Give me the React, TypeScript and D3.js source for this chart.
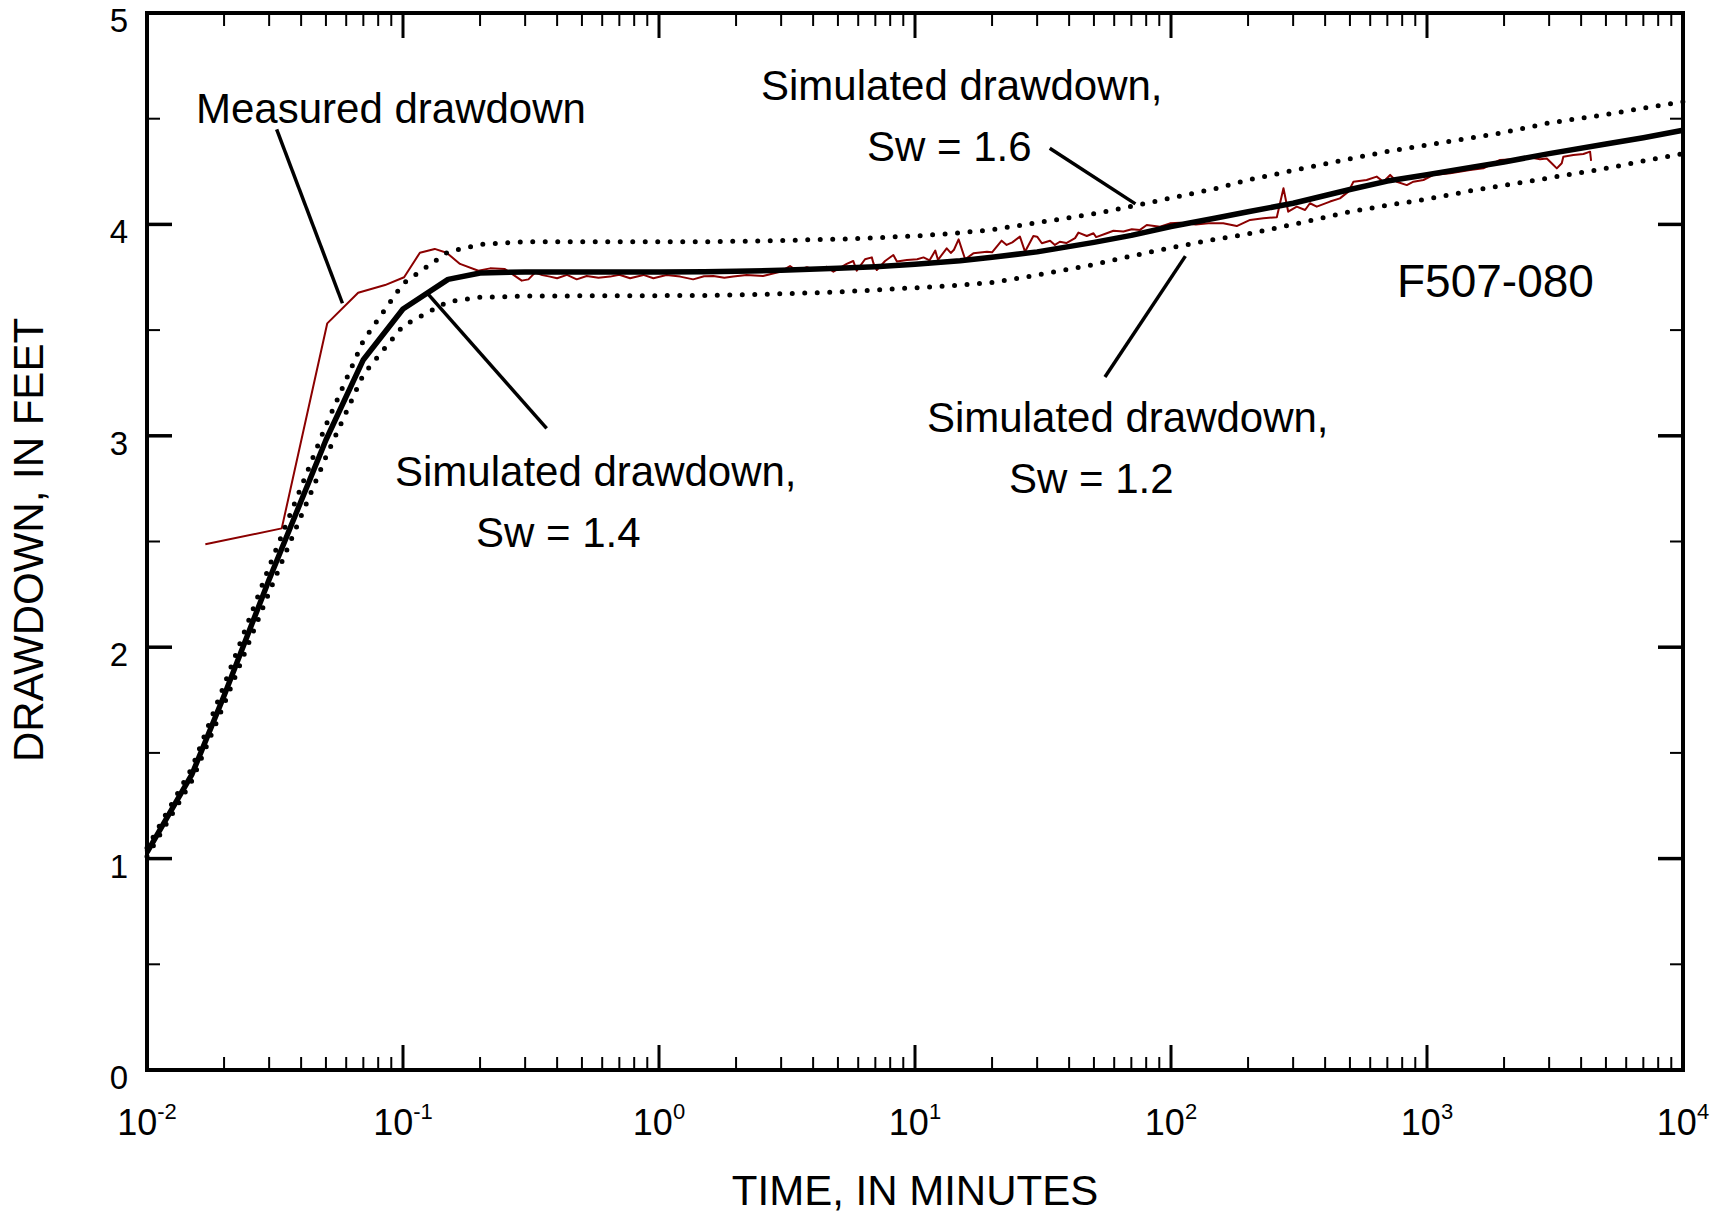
import React from "react";
import * as d3 from "d3";

// ---- Data (time in minutes, drawdown in feet) ----
const simTimes = [0.01, 0.015, 0.02, 0.03, 0.05, 0.07, 0.1, 0.15, 0.2, 0.3, 0.5, 0.7, 1, 1.5, 2, 3, 5, 7, 10, 15, 20, 30, 50, 70, 100, 150, 200, 300, 500, 700, 1000, 1500, 2000, 3000, 5000, 7000, 10000];
const simSw14 = [1.03, 1.40, 1.77, 2.32, 2.98, 3.36, 3.60, 3.74, 3.77, 3.775, 3.775, 3.775, 3.775, 3.776, 3.778, 3.783, 3.792, 3.80, 3.812, 3.828, 3.845, 3.87, 3.915, 3.948, 3.99, 4.03, 4.06, 4.10, 4.165, 4.205, 4.235, 4.27, 4.295, 4.335, 4.38, 4.41, 4.445];
const simSw16 = [1.05, 1.43, 1.82, 2.38, 3.05, 3.45, 3.72, 3.87, 3.905, 3.918, 3.918, 3.918, 3.918, 3.918, 3.92, 3.924, 3.93, 3.937, 3.945, 3.96, 3.975, 4.008, 4.05, 4.085, 4.125, 4.17, 4.21, 4.255, 4.31, 4.345, 4.375, 4.41, 4.435, 4.48, 4.52, 4.55, 4.58];
const simSw12 = [1.01, 1.37, 1.73, 2.26, 2.90, 3.29, 3.52, 3.635, 3.655, 3.661, 3.662, 3.663, 3.663, 3.664, 3.666, 3.672, 3.68, 3.69, 3.70, 3.713, 3.725, 3.76, 3.81, 3.85, 3.89, 3.93, 3.955, 4.00, 4.06, 4.09, 4.12, 4.16, 4.185, 4.22, 4.265, 4.30, 4.335];

const measTimes = [
  0.0169, 0.0336, 0.0506, 0.0668, 0.0851, 0.101, 0.1164, 0.133, 0.148, 0.167, 0.197, 0.219, 0.25, 0.27, 0.291, 0.309, 0.328, 0.35, 0.375, 0.40,
  0.437, 0.477, 0.522, 0.58, 0.644, 0.70, 0.771, 0.869, 0.951, 1.07, 1.21, 1.36, 1.5, 1.63, 1.8, 1.95, 2.2, 2.55, 2.97, 3.25,
  3.45, 3.78, 4.13, 4.52, 4.8, 5.41, 5.74, 5.92, 6.38, 6.78, 6.88, 7.09, 7.64, 8.23, 8.5, 9.3, 10.2, 10.8, 11.4, 12.0,
  12.3, 13.3, 13.8, 14.2, 14.8, 15.7, 16.9, 19.1, 20.0, 21.8, 22.8, 24.0, 25.7, 26.9, 29, 30, 31.3, 33.7, 35.2, 36.8,
  39, 42.2, 43.5, 46.9, 49.8, 51, 56.1, 59.6, 65.2, 70.3, 75.7, 80.4, 90.6, 99.1, 108.4, 125, 140, 160, 180.6, 203.7,
  229.6, 259, 275, 287, 310, 334, 349, 371, 418, 457, 493, 516, 581, 636, 676, 718, 762, 834, 885, 968,
  1060, 1232, 1472, 1660, 1928, 2173, 2449, 2762, 2937, 3069, 3214, 3360, 3408, 3730, 4083, 4335, 4375
];
const measDrawdown = [
  2.487, 2.562, 3.532, 3.677, 3.713, 3.75, 3.866, 3.884, 3.866, 3.813, 3.781, 3.792, 3.789, 3.761, 3.734, 3.74, 3.772, 3.76, 3.753, 3.745,
  3.761, 3.74, 3.756, 3.748, 3.753, 3.762, 3.745, 3.761, 3.745, 3.761, 3.753, 3.74, 3.755, 3.756, 3.748, 3.753, 3.761, 3.756, 3.776, 3.803,
  3.781, 3.797, 3.784, 3.80, 3.776, 3.813, 3.827, 3.781, 3.835, 3.844, 3.816, 3.784, 3.827, 3.855, 3.825, 3.832, 3.835, 3.844, 3.83, 3.876,
  3.832, 3.887, 3.865, 3.88, 3.929, 3.835, 3.863, 3.871, 3.868, 3.923, 3.903, 3.915, 3.942, 3.871, 3.945, 3.942, 3.911, 3.923, 3.903, 3.918,
  3.912, 3.935, 3.961, 3.945, 3.958, 3.94, 3.958, 3.97, 3.966, 3.977, 3.974, 3.997, 3.989, 4.005, 4.008, 4.0, 4.005, 4.005, 3.992, 4.021,
  4.029, 4.034, 4.171, 4.06, 4.084, 4.068, 4.10, 4.084, 4.108, 4.123, 4.155, 4.202, 4.21, 4.226, 4.202, 4.234, 4.202, 4.186, 4.202, 4.21,
  4.234, 4.242, 4.257, 4.265, 4.305, 4.308, 4.32, 4.308, 4.312, 4.289, 4.265, 4.289, 4.32, 4.328, 4.333, 4.344, 4.301
];

const xMajorTicks = [0.01, 0.1, 1, 10, 100, 1000, 10000];
const xTickExponents = ["-2", "-1", "0", "1", "2", "3", "4"];
const yMajorTicks = [0, 1, 2, 3, 4, 5];
const yMinorTicks = [0.5, 1.5, 2.5, 3.5, 4.5];

// Leader lines in data coordinates [t1, d1, t2, d2]
const leaders = [
  [0.0321, 4.45, 0.058, 3.627],
  [0.1256, 3.669, 0.364, 3.035],
  [33.6, 4.36, 72.6, 4.097],
  [113.8, 3.85, 55.2, 3.278],
];

export default function App() {
  const W = 1724, H = 1217;
  const L = 147, R = 1683, T = 13, B = 1070;
  const x = d3.scaleLog().domain([0.01, 10000]).range([L, R]);
  const y = d3.scaleLinear().domain([0, 5]).range([B, T]);

  const mk = (ts: number[], ds: number[]) =>
    d3.line<number>().x((_, i) => x(ts[i])).y((_, i) => y(ds[i]))(ts.map((_, i) => i)) || "";

  const minorX: number[] = [];
  for (let k = -2; k < 4; k++) for (let m = 2; m <= 9; m++) minorX.push(m * Math.pow(10, k));

  const font = "'Liberation Sans', Arial, Helvetica, sans-serif";
  const majLen = 25, minLen = 13;

  return (
    <svg width={W} height={H} style={{ position: "fixed", left: 0, top: 0, background: "#fff" }} fontFamily={font}>
      <rect x={0} y={0} width={W} height={H} fill="#fff" />
      {/* ticks */}
      {minorX.map((t, i) => (
        <g key={"mx" + i} stroke="#000" strokeWidth={2}>
          <line x1={x(t)} x2={x(t)} y1={B} y2={B - minLen} />
          <line x1={x(t)} x2={x(t)} y1={T} y2={T + minLen} />
        </g>
      ))}
      {xMajorTicks.map((t, i) => (
        <g key={"Mx" + i} stroke="#000" strokeWidth={3}>
          <line x1={x(t)} x2={x(t)} y1={B} y2={B - majLen} />
          <line x1={x(t)} x2={x(t)} y1={T} y2={T + majLen} />
        </g>
      ))}
      {yMinorTicks.map((v, i) => (
        <g key={"my" + i} stroke="#000" strokeWidth={2}>
          <line x1={L} x2={L + minLen} y1={y(v)} y2={y(v)} />
          <line x1={R} x2={R - minLen} y1={y(v)} y2={y(v)} />
        </g>
      ))}
      {yMajorTicks.map((v, i) => (
        <g key={"My" + i} stroke="#000" strokeWidth={3.5}>
          <line x1={L} x2={L + majLen} y1={y(v)} y2={y(v)} />
          <line x1={R} x2={R - majLen} y1={y(v)} y2={y(v)} />
        </g>
      ))}

      {/* data */}
      <path d={mk(measTimes, measDrawdown)} fill="none" stroke="#8b0000" strokeWidth={2} strokeLinejoin="round" />
      <path d={mk(simTimes, simSw16)} fill="none" stroke="#000" strokeWidth={5} strokeDasharray="0 12.5" strokeLinecap="round" />
      <path d={mk(simTimes, simSw12)} fill="none" stroke="#000" strokeWidth={5} strokeDasharray="0 12.5" strokeLinecap="round" />
      <path d={mk(simTimes, simSw14)} fill="none" stroke="#000" strokeWidth={5.5} strokeLinejoin="round" />

      {/* frame */}
      <rect x={L} y={T} width={R - L} height={B - T} fill="none" stroke="#000" strokeWidth={4} />

      {/* tick labels */}
      {yMajorTicks.map((v, i) => (
        <text key={"yl" + i} x={128} y={y(v) + 19} fontSize={33} textAnchor="end" fill="#000">{v}</text>
      ))}
      {xMajorTicks.map((t, i) => (
        <text key={"xl" + i} x={x(t)} y={1135} fontSize={36} textAnchor="middle" fill="#000">
          10<tspan dy={-16} fontSize={22}>{xTickExponents[i]}</tspan>
        </text>
      ))}

      {/* axis titles */}
      <text x={915} y={1205} fontSize={42} textAnchor="middle">TIME, IN MINUTES</text>
      <text transform="translate(43,540) rotate(-90)" fontSize={42} textAnchor="middle">DRAWDOWN, IN FEET</text>

      {/* leaders */}
      {leaders.map((l, i) => (
        <line key={"ld" + i} x1={x(l[0])} y1={y(l[1])} x2={x(l[2])} y2={y(l[3])} stroke="#000" strokeWidth={3.5} />
      ))}

      {/* annotations */}
      <text x={196} y={123} fontSize={42}>Measured drawdown</text>
      <text x={761} y={100} fontSize={42}>Simulated drawdown,</text>
      <text x={867} y={161} fontSize={42}>Sw = 1.6</text>
      <text x={395} y={486} fontSize={42}>Simulated drawdown,</text>
      <text x={476} y={547} fontSize={42}>Sw = 1.4</text>
      <text x={927} y={432} fontSize={42}>Simulated drawdown,</text>
      <text x={1009} y={493} fontSize={42}>Sw = 1.2</text>
      <text x={1397} y={297} fontSize={46}>F507-080</text>
    </svg>
  );
}
